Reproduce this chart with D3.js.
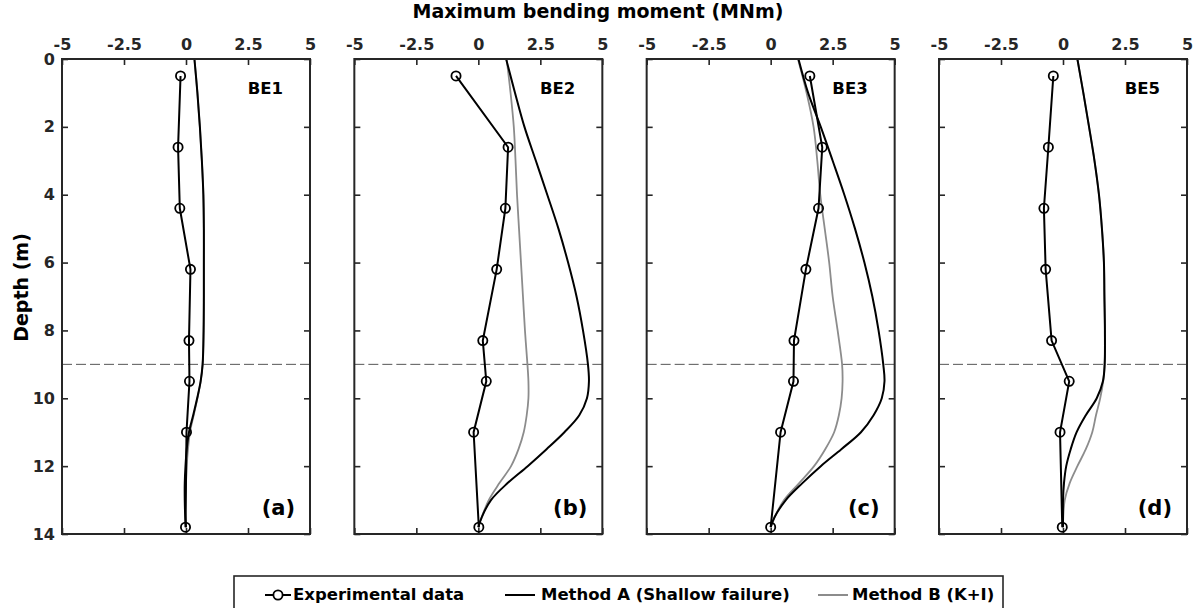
<!DOCTYPE html>
<html>
<head>
<meta charset="utf-8">
<script src="https://cdn.jsdelivr.net/npm/d3@7/dist/d3.min.js"></script>
<style>
  html, body { margin: 0; padding: 0; background: #fff; }
  svg { display: block; font-family: "DejaVu Sans", Verdana, sans-serif; font-weight: bold; }
</style>
</head>
<body>
<svg id="chart" width="1200" height="608"></svg>
<script>
// Depths (m) of the measured bending moments
const depthExp = [0.5, 2.6, 4.4, 6.2, 8.3, 9.5, 11, 13.8];

// Measured maximum bending moment (MNm) per test
const expBE1 = [-0.22, -0.32, -0.25, 0.18, 0.12, 0.14, 0.02, -0.02];
const expBE2 = [-0.9, 1.2, 1.09, 0.74, 0.18, 0.32, -0.19, 0.02];
const expBE3 = [1.58, 2.08, 1.93, 1.42, 0.94, 0.92, 0.4, 0.0];
const expBE5 = [-0.39, -0.59, -0.77, -0.7, -0.46, 0.25, -0.12, -0.03];

// Depths (m) at which the predictions are listed
const depthModel = [0, 1, 2, 3, 4, 5, 6, 7, 8, 9, 9.5, 10, 10.5, 11, 11.5, 12, 12.5, 13, 13.5, 13.8];

// Method A (Shallow failure)
const methodA_BE1 = [0.34, 0.46, 0.56, 0.64, 0.7, 0.72, 0.72, 0.72, 0.71, 0.67, 0.59, 0.45, 0.29, 0.12, 0.03, -0.02, -0.05, -0.05, -0.03, 0.0];
const methodA_BE2 = [1.12, 1.48, 1.86, 2.32, 2.78, 3.23, 3.62, 3.96, 4.22, 4.42, 4.46, 4.38, 4.07, 3.47, 2.75, 1.99, 1.18, 0.51, 0.14, 0.0];
const methodA_BE3 = [1.12, 1.51, 2.02, 2.5, 2.97, 3.4, 3.78, 4.1, 4.35, 4.54, 4.59, 4.48, 4.15, 3.64, 2.85, 2.02, 1.28, 0.61, 0.16, 0.0];
const methodA_BE5 = [0.58, 0.82, 1.05, 1.27, 1.45, 1.57, 1.65, 1.67, 1.69, 1.68, 1.61, 1.36, 0.92, 0.55, 0.31, 0.13, 0.04, 0.0, 0.0, 0.0];

// Method B (K+I)
const methodB_BE1 = [0.34, 0.46, 0.56, 0.64, 0.7, 0.72, 0.72, 0.72, 0.71, 0.67, 0.59, 0.46, 0.31, 0.16, 0.08, 0.03, 0.0, -0.02, -0.02, 0.0];
const methodB_BE2 = [1.14, 1.3, 1.43, 1.5, 1.56, 1.64, 1.72, 1.8, 1.88, 1.98, 2.02, 2.02, 1.95, 1.83, 1.62, 1.32, 0.85, 0.42, 0.14, 0.0];
const methodB_BE3 = [1.1, 1.45, 1.73, 1.88, 2.0, 2.18, 2.36, 2.5, 2.7, 2.88, 2.9, 2.86, 2.75, 2.56, 2.2, 1.75, 1.15, 0.54, 0.16, 0.0];
const methodB_BE5 = [0.58, 0.82, 1.05, 1.27, 1.45, 1.57, 1.65, 1.67, 1.69, 1.68, 1.62, 1.5, 1.33, 1.18, 0.92, 0.58, 0.27, 0.07, 0.01, 0.0];

// Panel names and tags
const panelNames = ["BE1", "BE2", "BE3", "BE5"];
const panelTags = ["(a)", "(b)", "(c)", "(d)"];

// Axis ticks
const xTicks = [-5, -2.5, 0, 2.5, 5];
const xTickLabels = ["-5", "-2.5", "0", "2.5", "5"];
const yTicks = [0, 2, 4, 6, 8, 10, 12, 14];
const yTickLabels = ["0", "2", "4", "6", "8", "10", "12", "14"];

// Depth of the reference line
const refDepth = [9];

// Legend entries
const legendLabels = ["Experimental data", "Method A (Shallow failure)", "Method B (K+I)"];

const panels = panelNames.map((name, i) => ({
  name,
  tag: panelTags[i],
  exp: [expBE1, expBE2, expBE3, expBE5][i],
  a: [methodA_BE1, methodA_BE2, methodA_BE3, methodA_BE5][i],
  b: [methodB_BE1, methodB_BE2, methodB_BE3, methodB_BE5][i]
}));

const svg = d3.select("#chart");
const frameColor = "#262626";

const panelW = 248, plotTop = 59, plotH = 475;
const panelLeft = d3.scaleLinear().domain([0, 3]).range([62, 939]);

const y = d3.scaleLinear().domain([0, 14]).range([plotTop, plotTop + plotH]);

// Overall x-axis title
svg.append("text")
  .attr("x", 598).attr("y", 18)
  .attr("text-anchor", "middle")
  .attr("font-size", 19)
  .attr("fill", "#000")
  .text("Maximum bending moment (MNm)");

// y-axis title
svg.append("text")
  .attr("transform", `translate(28, ${plotTop + plotH / 2 - 9}) rotate(-90)`)
  .attr("text-anchor", "middle")
  .attr("font-size", 19)
  .attr("fill", "#000")
  .text("Depth (m)");

const line = (xs) => d3.line()
  .x(d => xs(d[0]))
  .y(d => y(d[1]))
  .curve(d3.curveCatmullRom.alpha(0.5));

panels.forEach((p, i) => {
  const x0 = panelLeft(i);
  const x = d3.scaleLinear().domain([-5, 5]).range([x0, x0 + panelW]);
  const g = svg.append("g");

  const styleAxis = (sel) => {
    sel.select(".domain").remove();
    sel.selectAll(".tick line").attr("stroke", frameColor).attr("stroke-width", 1.6);
    sel.selectAll(".tick text").attr("fill", frameColor)
      .attr("font-size", 16).attr("font-family", "DejaVu Sans, Verdana, sans-serif").attr("font-weight", "bold");
  };

  // Top axis with labels
  g.append("g").attr("transform", `translate(0,${plotTop})`)
    .call(d3.axisTop(x).tickValues(xTicks).tickSize(-6).tickPadding(9)
      .tickFormat((d, k) => xTickLabels[k]))
    .call(styleAxis);
  // Bottom axis ticks only
  g.append("g").attr("transform", `translate(0,${plotTop + plotH})`)
    .call(d3.axisBottom(x).tickValues(xTicks).tickSize(-6).tickFormat(""))
    .call(styleAxis);
  // Left axis (labels only on the first panel)
  g.append("g").attr("transform", `translate(${x0},0)`)
    .call(d3.axisLeft(y).tickValues(yTicks).tickSize(-6).tickPadding(7)
      .tickFormat((d, k) => i === 0 ? yTickLabels[k] : ""))
    .call(styleAxis);
  // Right axis ticks only
  g.append("g").attr("transform", `translate(${x0 + panelW},0)`)
    .call(d3.axisRight(y).tickValues(yTicks).tickSize(-6).tickFormat(""))
    .call(styleAxis);

  // Reference depth
  g.selectAll(".ref").data(refDepth).enter().append("line")
    .attr("x1", x0).attr("x2", x0 + panelW)
    .attr("y1", d => y(d)).attr("y2", d => y(d))
    .attr("stroke", "#555").attr("stroke-width", 1)
    .attr("stroke-dasharray", "10,4");

  // Method B
  g.append("path")
    .datum(p.b.map((v, k) => [v, depthModel[k]]))
    .attr("d", line(x))
    .attr("fill", "none").attr("stroke", "#8c8c8c").attr("stroke-width", 1.8);

  // Method A
  g.append("path")
    .datum(p.a.map((v, k) => [v, depthModel[k]]))
    .attr("d", line(x))
    .attr("fill", "none").attr("stroke", "#000").attr("stroke-width", 2);

  // Experimental data
  const expPts = p.exp.map((v, k) => [v, depthExp[k]]);
  g.append("path")
    .datum(expPts)
    .attr("d", d3.line().x(d => x(d[0])).y(d => y(d[1])))
    .attr("fill", "none").attr("stroke", "#000").attr("stroke-width", 2);
  g.selectAll("circle").data(expPts).enter().append("circle")
    .attr("cx", d => x(d[0])).attr("cy", d => y(d[1]))
    .attr("r", 4.6)
    .attr("fill", "none").attr("stroke", "#000").attr("stroke-width", 1.8);

  // Frame
  g.append("rect")
    .attr("x", x0).attr("y", plotTop).attr("width", panelW).attr("height", plotH)
    .attr("fill", "none").attr("stroke", frameColor).attr("stroke-width", 2);

  // Panel labels
  g.append("text")
    .attr("x", x0 + panelW - 27).attr("y", 94)
    .attr("text-anchor", "end").attr("font-size", 16.5).attr("fill", "#000")
    .text(p.name);
  g.append("text")
    .attr("x", x0 + panelW - 15).attr("y", 515)
    .attr("text-anchor", "end").attr("font-size", 21).attr("fill", "#000")
    .text(p.tag);
});

// Legend
const leg = svg.append("g");
leg.append("rect")
  .attr("x", 234).attr("y", 576).attr("width", 769).attr("height", 44)
  .attr("fill", "#fff").attr("stroke", frameColor).attr("stroke-width", 1.6);

const legY = 595;
const legItems = [
  { x1: 265, x2: 291, tx: 293, color: "#000", marker: true },
  { x1: 505, x2: 535, tx: 541, color: "#000", marker: false },
  { x1: 818, x2: 848, tx: 852, color: "#8c8c8c", marker: false }
];
legItems.forEach((it, k) => {
  leg.append("line")
    .attr("x1", it.x1).attr("x2", it.x2).attr("y1", legY).attr("y2", legY)
    .attr("stroke", it.color).attr("stroke-width", 2);
  if (it.marker) {
    leg.append("circle")
      .attr("cx", (it.x1 + it.x2) / 2).attr("cy", legY).attr("r", 4.6)
      .attr("fill", "#fff").attr("stroke", "#000").attr("stroke-width", 1.8);
  }
  leg.append("text")
    .attr("x", it.tx).attr("y", legY + 5)
    .attr("font-size", 16.5).attr("fill", "#000")
    .text(legendLabels[k]);
});
</script>
</body>
</html>
